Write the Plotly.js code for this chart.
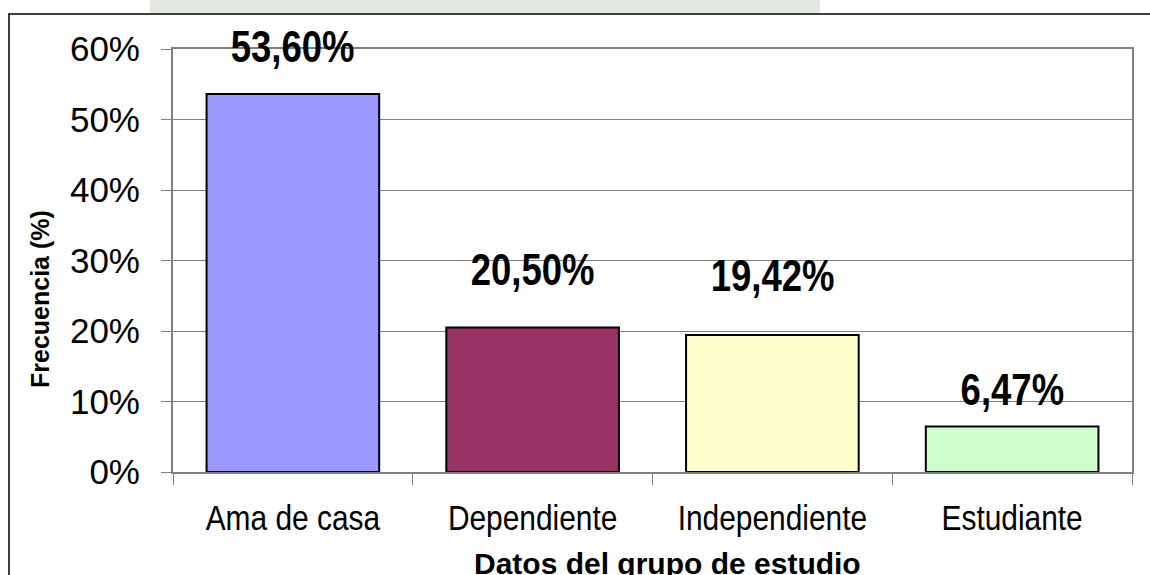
<!DOCTYPE html>
<html>
<head>
<meta charset="utf-8">
<script src="https://cdn.plot.ly/plotly-3.0.1.min.js"></script>
<style>
  html, body { margin: 0; padding: 0; background: #ffffff; }
  #chart { width: 1150px; height: 575px; }
</style>
</head>
<body>
<div id="chart"></div>
<script>
// ---- data ----
const categories = ["Ama de casa", "Dependiente", "Independiente", "Estudiante"];
const frecuencia = [53.60, 20.50, 19.42, 6.47];
const valueLabels = ["53,60%", "20,50%", "19,42%", "6,47%"];
const yTickValues = [0, 10, 20, 30, 40, 50, 60];
const yTickLabels = ["0%", "10%", "20%", "30%", "40%", "50%", "60%"];
const xTitle = "Datos del grupo de estudio";
const yTitle = "Frecuencia (%)";

// ---- styling ----
const barColors = ["#9999FF", "#993366", "#FFFFCC", "#CCFFCC"];
const labelShift = [48, 58, 60, 37];
const sans = "'Liberation Sans', Arial, sans-serif";
const NARROW = 0.83;

const trace = {
  type: "bar",
  x: categories,
  y: frecuencia,
  width: 0.72,
  marker: { color: barColors, line: { color: "#000000", width: 2 } },
  hoverinfo: "none"
};

const valueAnnotations = categories.map((c, i) => ({
  x: c, y: frecuencia[i], xref: "x", yref: "y",
  text: valueLabels[i], showarrow: false,
  yanchor: "middle", yshift: labelShift[i],
  font: { family: sans, size: 44, color: "#000000", weight: "bold" }
}));

const titleAnnotations = [
  { xref: "paper", yref: "paper", x: (667 - 173) / 959, y: (472 - 563) / 423,
    text: xTitle, showarrow: false, xanchor: "center", yanchor: "middle",
    font: { family: sans, size: 30, color: "#000000", weight: "bold" } },
  { xref: "paper", yref: "paper", x: (40 - 173) / 959, y: (472 - 299) / 423,
    text: yTitle, showarrow: false, textangle: -90, xanchor: "center", yanchor: "middle",
    font: { family: sans, size: 25, color: "#000000", weight: "bold" } }
];

const layout = {
  width: 1150, height: 575,
  margin: { l: 173, r: 18, t: 49, b: 103 },
  paper_bgcolor: "#ffffff",
  plot_bgcolor: "#ffffff",
  showlegend: false,
  xaxis: {
    type: "category",
    tickson: "boundaries",
    ticks: "outside", ticklen: 11, tickcolor: "#808080", tickwidth: 1,
    ticklabelstandoff: 13,
    showline: true, linecolor: "#808080", linewidth: 2, mirror: true,
    showgrid: false,
    tickfont: { family: sans, size: 36, color: "#000000" }
  },
  yaxis: {
    range: [0, 60],
    tickvals: yTickValues, ticktext: yTickLabels,
    ticks: "outside", ticklen: 10, tickcolor: "#808080", tickwidth: 1,
    ticklabelstandoff: 14,
    showline: true, linecolor: "#808080", linewidth: 2, mirror: true,
    showgrid: true, gridcolor: "#808080", gridwidth: 1,
    zeroline: false,
    tickfont: { family: sans, size: 35, color: "#000000" }
  },
  annotations: valueAnnotations.concat(titleAnnotations),
  shapes: [
    { type: "rect", xref: "paper", yref: "paper",
      x0: (150 - 173) / 959, x1: (820 - 173) / 959, y0: (472 - 0) / 423, y1: (472 - 13) / 423,
      fillcolor: "#e4e9e1", line: { width: 0 }, layer: "below" },
    { type: "rect", xref: "paper", yref: "paper",
      x0: (9 - 173) / 959, x1: (1160 - 173) / 959, y0: (472 - 14) / 423, y1: (472 - 590) / 423,
      line: { color: "#000000", width: 1.5 }, fillcolor: "rgba(0,0,0,0)", layer: "below" }
  ]
};

// Condense text horizontally (Arial Narrow look) around its anchor x
function condense(el) {
  const x = parseFloat(el.getAttribute("x")) || 0;
  const t = el.getAttribute("transform") || "";
  el.setAttribute("transform", t + " translate(" + x + ",0) scale(" + NARROW + ",1) translate(" + (-x) + ",0)");
}

Plotly.newPlot("chart", [trace], layout, { displayModeBar: false, staticPlot: true }).then(gd => {
  gd.querySelectorAll(".xtick text").forEach(condense);
  const annTexts = gd.querySelectorAll(".annotation-text");
  for (let i = 0; i < valueAnnotations.length; i++) condense(annTexts[i]);
});
</script>
</body>
</html>
